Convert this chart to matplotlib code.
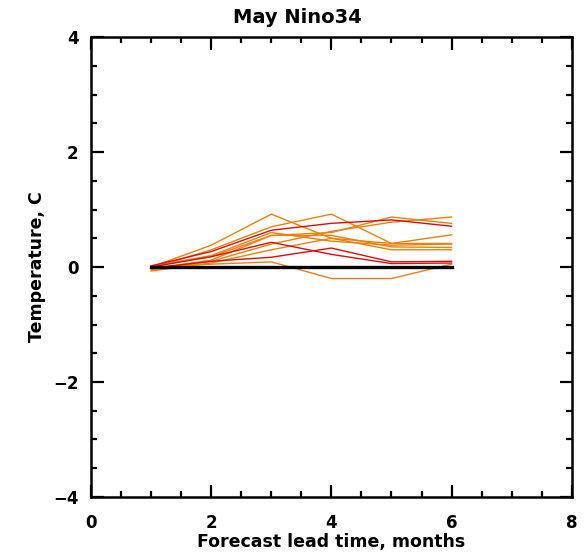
import matplotlib
matplotlib.use("Agg")
import matplotlib.pyplot as plt
from matplotlib.ticker import MultipleLocator

# lead times (months)
lead = [1, 2, 3, 4, 5, 6]

# ensemble forecasts of Nino34 anomaly (C)
orange_members = [
    [0.00, 0.38, 0.92, 0.50, 0.41, 0.56],
    [-0.02, 0.30, 0.70, 0.92, 0.41, 0.41],
    [0.02, 0.18, 0.55, 0.60, 0.87, 0.76],
    [-0.05, 0.10, 0.40, 0.62, 0.78, 0.87],
    [0.00, 0.05, 0.09, -0.20, -0.20, 0.05],
    [-0.03, 0.12, 0.55, 0.55, 0.35, 0.34],
    [-0.07, 0.07, 0.30, 0.50, 0.30, 0.30],
    [0.01, 0.20, 0.60, 0.45, 0.38, 0.40],
]
red_members = [
    [0.02, 0.27, 0.64, 0.76, 0.82, 0.71],
    [0.00, 0.18, 0.43, 0.22, 0.06, 0.07],
    [-0.02, 0.10, 0.17, 0.33, 0.09, 0.10],
]
zero_line = [0, 0, 0, 0, 0, 0]

plt.rcParams['font.family'] = ['DejaVu Sans']
plt.rcParams['font.weight'] = 'bold'

fig = plt.figure(figsize=(5.84, 5.54), dpi=100)
ax = fig.add_axes([0.156, 0.103, 0.823, 0.830])

for vals in orange_members:
    ax.plot(lead, vals, color='#ee8010', lw=1.0)
for vals in red_members:
    ax.plot(lead, vals, color='#d81010', lw=1.0)
ax.plot(lead, zero_line, color='black', lw=2.4)

ax.set_xlim(0, 8)
ax.set_ylim(-4, 4)
ax.xaxis.set_major_locator(MultipleLocator(2))
ax.xaxis.set_minor_locator(MultipleLocator(0.5))
ax.yaxis.set_major_locator(MultipleLocator(2))
ax.yaxis.set_minor_locator(MultipleLocator(0.5))
ax.tick_params(which='both', direction='in', top=True, right=True, width=1.6,
               labelsize=12)
ax.tick_params(axis='x', pad=12)
ax.tick_params(axis='y', pad=9)
ax.tick_params(which='major', length=9)
ax.tick_params(which='minor', length=4)
for s in ax.spines.values():
    s.set_linewidth(1.8)

fig.text(0.509, 0.969, 'May Nino34', fontsize=14, fontweight='bold',
         ha='center', va='center')
ax.set_xlabel('Forecast lead time, months', fontsize=12.5, fontweight='bold', labelpad=1)
ax.set_ylabel('Temperature, C', fontsize=12.5, fontweight='bold', labelpad=5)

fig.savefig('out.png', dpi=100)
